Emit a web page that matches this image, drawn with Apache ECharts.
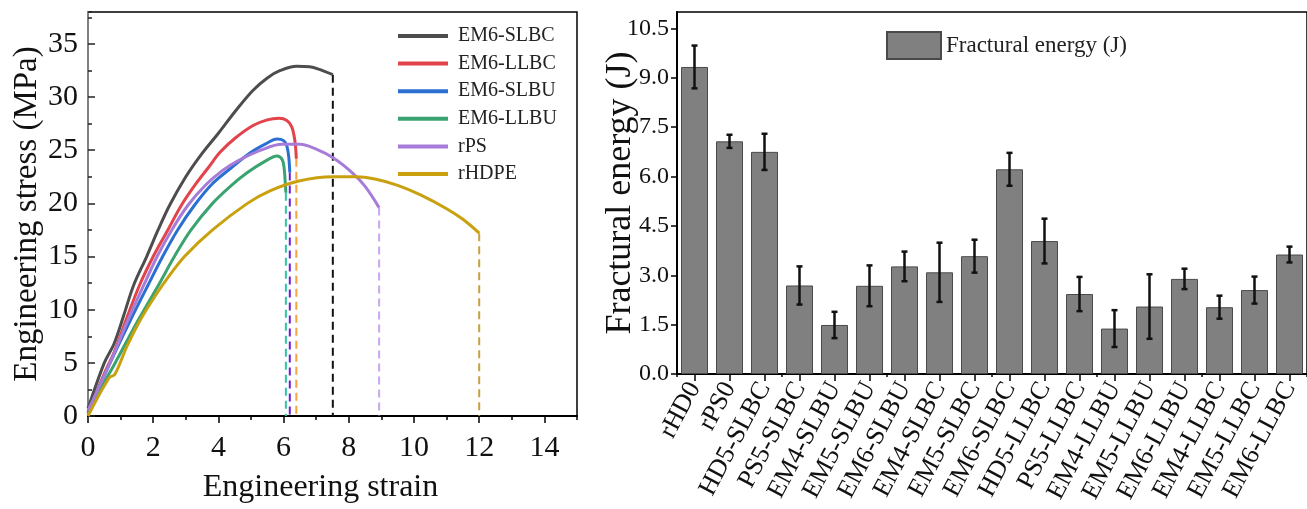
<!DOCTYPE html>
<html><head><meta charset="utf-8">
<script src="https://cdn.jsdelivr.net/npm/echarts@6/dist/echarts.min.js"></script>
<style>html,body{margin:0;padding:0;background:#fff}#c{width:1307px;height:509px}</style>
</head><body><div id="c"></div>
<script>
// ---------- Left panel: stress-strain curves ----------
const curveNames = ['EM6-SLBC','EM6-LLBC','EM6-SLBU','EM6-LLBU','rPS','rHDPE'];
const curveEM6SLBC = [[0,0.7],[0.5,5.0],[0.8,6.8],[1.1,9.5],[1.4,12.3],[1.8,15.0],[2.15,17.5],[2.5,19.8],[3.0,22.5],[3.5,24.7],[4.0,26.6],[4.5,28.6],[5.05,30.6],[5.5,31.8],[5.9,32.5],[6.4,32.9],[6.8,32.85],[7.1,32.6],[7.51,32.1]];
const curveEM6LLBC = [[0,0.3],[0.5,4.0],[0.8,6.0],[1.2,9.3],[1.58,12.3],[2.0,15.0],[2.45,17.5],[2.86,19.8],[3.3,21.8],[3.7,23.4],[4.05,24.8],[4.5,26.1],[5.05,27.3],[5.5,27.85],[5.86,28.0],[6.1,27.8],[6.25,27.2],[6.33,26.2],[6.37,25.2],[6.39,24.2]];
const curveEM6SLBU = [[0,0.4],[0.5,3.8],[0.8,5.8],[1.3,9.0],[1.84,12.3],[2.29,15.0],[2.75,17.5],[3.26,19.8],[3.8,21.8],[4.38,23.3],[5.0,24.8],[5.45,25.6],[5.8,26.05],[6.0,25.9],[6.1,25.4],[6.16,24.3],[6.19,22.9]];
const curveEM6LLBU = [[0,0.2],[0.5,3.2],[0.8,4.8],[1.5,8.8],[2.16,12.3],[2.65,15.0],[3.16,17.5],[3.82,20.0],[4.4,21.7],[4.89,22.9],[5.4,23.9],[5.8,24.45],[5.96,24.1],[6.02,23.2],[6.05,22.0],[6.07,21.0]];
const curveRPS = [[0,0.5],[0.5,3.8],[0.8,5.9],[1.25,9.2],[1.71,12.3],[2.12,15.0],[2.57,17.5],[3.06,19.8],[3.6,21.7],[4.13,23.1],[4.6,24.0],[5.3,25.0],[5.95,25.55],[6.5,25.55],[7.0,25.1],[7.54,24.25],[8.1,22.9],[8.5,21.6],[8.93,19.6]];
const curveRHDPE = [[0,0],[0.65,3.6],[0.82,3.9],[1.2,6.6],[1.6,9.0],[2.0,11.0],[2.4,12.8],[2.96,15.0],[3.82,17.5],[4.89,20.0],[5.6,21.2],[6.47,22.1],[7.5,22.5],[8.2,22.5],[8.8,22.3],[9.5,21.7],[10.2,20.8],[11.0,19.5],[11.5,18.5],[12.0,17.2]];
const curves = [curveEM6SLBC, curveEM6LLBC, curveEM6SLBU, curveEM6LLBU, curveRPS, curveRHDPE];
const curveColors = ['#4d4d4d','#e3434b','#2b6fd1','#3aa370','#a77cd9','#c9a10f'];
const dropColors = ['#111111','#f4a340','#6b1fd6','#2fc6a5','#c9a6ee','#c9a040'];

// ---------- Right panel: fractural energy ----------
const barCats = ['rHD0','rPS0','HD5-SLBC','PS5-SLBC','EM4-SLBU','EM5-SLBU','EM6-SLBU','EM4-SLBC','EM5-SLBC','EM6-SLBC','HD5-LLBC','PS5-LLBC','EM4-LLBU','EM5-LLBU','EM6-LLBU','EM4-LLBC','EM5-LLBC','EM6-LLBC'];
const energy = [9.33,7.07,6.75,2.69,1.49,2.68,3.27,3.09,3.58,6.22,4.04,2.43,1.38,2.05,2.89,2.03,2.55,3.63];
const energyErr = [0.65,0.2,0.55,0.58,0.4,0.62,0.45,0.9,0.5,0.5,0.68,0.52,0.56,0.98,0.31,0.35,0.41,0.24];

const SERIF = 'Liberation Serif';
const chart = echarts.init(document.getElementById('c'));

const series = [];
curves.forEach((c, i) => {
  series.push({
    name: curveNames[i], type: 'line', xAxisIndex: 0, yAxisIndex: 0,
    data: c, showSymbol: false, symbol: 'none', smooth: 0.35,
    color: curveColors[i], lineStyle: { width: 3, color: curveColors[i] }, z: 3
  });
});
curves.forEach((c, i) => {
  const end = c[c.length - 1];
  series.push({
    type: 'line', xAxisIndex: 0, yAxisIndex: 0,
    data: [end, [end[0], 0]], showSymbol: false, symbol: 'none',
    lineStyle: { width: 2, color: dropColors[i], type: [8, 5] }, z: 2, silent: true
  });
});
series.push({
  name: 'Fractural energy (J)', type: 'bar', xAxisIndex: 2, yAxisIndex: 2,
  data: energy, barWidth: 27, color: '#808080',
  itemStyle: { color: '#808080', borderColor: '#4a4a4a', borderWidth: 1 }
});
series.push({
  type: 'custom', xAxisIndex: 2, yAxisIndex: 2, z: 5, silent: true,
  data: energy.map((v, i) => [i, v, energyErr[i]]),
  renderItem: function (params, api) {
    const i = api.value(0), v = api.value(1), e = api.value(2);
    const hi = api.coord([i, v + e]);
    const lo = api.coord([i, v - e]);
    const w = 3;
    const st = { stroke: '#111', lineWidth: 2.5 };
    return { type: 'group', children: [
      { type: 'line', shape: { x1: hi[0], y1: hi[1], x2: lo[0], y2: lo[1] }, style: st },
      { type: 'line', shape: { x1: hi[0]-w, y1: hi[1], x2: hi[0]+w, y2: hi[1] }, style: st },
      { type: 'line', shape: { x1: lo[0]-w, y1: lo[1], x2: lo[0]+w, y2: lo[1] }, style: st }
    ]};
  }
});

const option = {
  animation: false,
  backgroundColor: '#fff',
  textStyle: { fontFamily: SERIF },
  grid: [
    { left: 88, top: 12, width: 489, height: 409.5, show: true, borderColor: '#000', borderWidth: 1.5, backgroundColor: 'transparent' },
    { left: 677, top: 12, right: -9, height: 362, show: true, borderColor: '#000', borderWidth: 1.5, backgroundColor: 'transparent' }
  ],
  xAxis: [
    { type: 'value', gridIndex: 0, min: 0, max: 15, interval: 2,
      axisLine: { show: true, lineStyle: { color: '#000', width: 2 } },
      axisTick: { show: true, inside: false, length: 7, lineStyle: { color: '#000', width: 1.5 } },
      axisLabel: { fontFamily: SERIF, fontSize: 30, color: '#111', margin: 17, showMaxLabel: false },
      splitLine: { show: false },
      name: 'Engineering strain', nameLocation: 'middle', nameGap: 56, nameMoveOverlap: false,
      nameTextStyle: { fontFamily: SERIF, fontSize: 32, color: '#111', padding: [0, 24, 0, 0] } },
    { type: 'value', gridIndex: 0, min: 0, max: 15, interval: 1, position: 'bottom',
      axisLine: { show: false }, axisLabel: { show: false }, splitLine: { show: false },
      axisTick: { show: true, inside: false, length: 4, lineStyle: { color: '#000', width: 1.5 } } },
    { type: 'category', gridIndex: 1, data: barCats, boundaryGap: true,
      axisLine: { show: true, lineStyle: { color: '#000', width: 2 } },
      axisTick: { show: true, alignWithLabel: true, inside: false, length: 7, lineStyle: { color: '#000', width: 1.5 } },
      axisLabel: { fontFamily: SERIF, fontSize: 26, color: '#111', rotate: 62, margin: 10, interval: 0 },
      splitLine: { show: false } },
    { type: 'category', gridIndex: 1, data: barCats, boundaryGap: true, position: 'bottom',
      axisLine: { show: false }, axisLabel: { show: false }, splitLine: { show: false },
      axisTick: { show: true, alignWithLabel: false, inside: false, length: 3, lineStyle: { color: '#000', width: 1.5 } } }
  ],
  yAxis: [
    { type: 'value', gridIndex: 0, min: 0, max: 38, interval: 5,
      axisLine: { show: true, lineStyle: { color: '#808080', width: 2 } },
      axisTick: { show: true, inside: true, length: 7, lineStyle: { color: '#222', width: 1.5 } },
      axisLabel: { fontFamily: SERIF, fontSize: 30, color: '#111', margin: 10, showMaxLabel: false },
      splitLine: { show: false },
      name: 'Engineering stress (MPa)', nameLocation: 'middle', nameGap: 44, nameMoveOverlap: false,
      nameTextStyle: { fontFamily: SERIF, fontSize: 33, color: '#111' } },
    { type: 'value', gridIndex: 0, min: 0, max: 38, interval: 2.5, position: 'left',
      axisLine: { show: false }, axisLabel: { show: false }, splitLine: { show: false },
      axisTick: { show: true, inside: true, length: 4, lineStyle: { color: '#222', width: 1.5 } } },
    { type: 'value', gridIndex: 1, min: 0, max: 11, interval: 1.5,
      axisLine: { show: true, lineStyle: { color: '#000', width: 2 } },
      axisTick: { show: true, inside: false, length: 6, lineStyle: { color: '#000', width: 1.5 } },
      axisLabel: { fontFamily: SERIF, fontSize: 24, color: '#111', margin: 8, showMaxLabel: false,
        formatter: v => v.toFixed(1) },
      splitLine: { show: false },
      name: 'Fractural energy (J)', nameLocation: 'middle', nameGap: 38, nameMoveOverlap: false,
      nameTextStyle: { fontFamily: SERIF, fontSize: 36, color: '#111' } }
  ],
  legend: [
    { data: curveNames, orient: 'vertical', left: 393, top: 21, icon: 'rect',
      itemWidth: 50, itemHeight: 4, itemGap: 7.6,
      textStyle: { fontFamily: SERIF, fontSize: 20, color: '#222', lineHeight: 20, padding: [0, 0, 0, 5] } },
    { data: ['Fractural energy (J)'], left: 881, top: 26, icon: 'rect',
      itemWidth: 54, itemHeight: 27,
      textStyle: { fontFamily: SERIF, fontSize: 23, color: '#222' } }
  ],
  series: series
};
chart.setOption(option);
</script>
</body></html>
